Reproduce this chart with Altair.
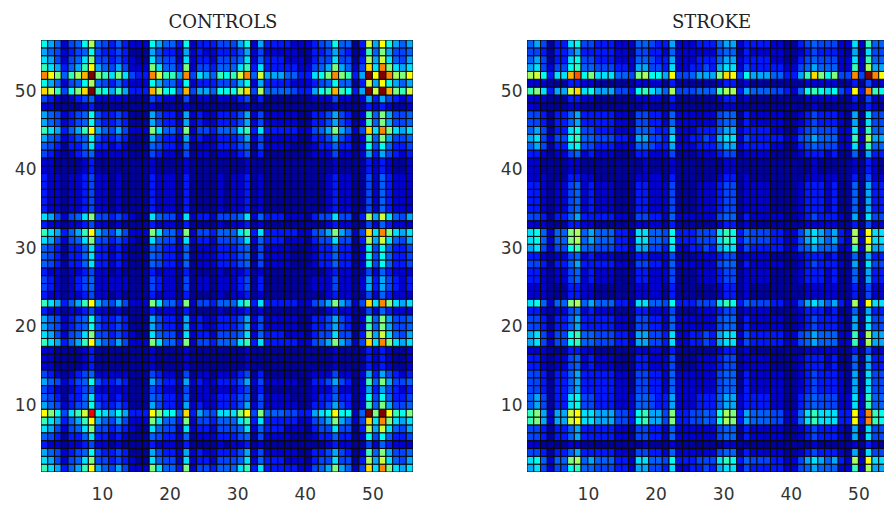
import altair as alt
import pandas as pd

# Cell levels: one character per cell, level index / 20 = colour position.
LEVELS = "0123456789abcdefghijk"

# Row patterns for the CONTROLS panel (55 cells, column 1 first)
CONTROLS_PATTERNS = {
    "A": "2211112311" "1111112111" "1211111111" "2111111111" "1112111132" "32112",
    "B": "3221223422" "1211113222" "1311112122" "3121111111" "1123221142" "53222",
    "C": "4321234522" "2221114322" "1412212223" "4131111111" "2224221263" "64323",
    "D": "5431335733" "2321115433" "2512223334" "5142222111" "2335331284" "85334",
    "X": "6542345843" "3431116433" "2623223334" "6242222211" "3346431295" "a6445",
    "E": "7642457a44" "3432117544" "2723324445" "7253332221" "34474413b6" "c7546",
    "Y": "8652458b54" "3532228655" "3823334446" "8263333222" "34585513c6" "d8656",
    "F": "9763569d65" "464222a755" "3a24435557" "9373333322" "456a6524e7" "ga767",
    "G": "da8479ci87" "686333da88" "5e3654777a" "d4a5554433" "678d8825ka" "kd98a",
    "H": "ec948aek98" "696333fb88" "5f4665888b" "e4b5555433" "689f9836kc" "kfa9c",
    "I": "gda59bfka9" "7a7433gc99" "6g4765989c" "g5c6665533" "78aga936kd" "kgbad",
}
# Which pattern each row has, bottom row first
CONTROLS_ROWS = "FEXBDEFGXD" "CXCAAAFEXX" "BFBCCBDDDE" "FBEBBBBBAA" "CDXFXXACHY" "IFEXY"

# Row patterns for the STROKE panel
STROKE_PATTERNS = {
    "a": "2211112211" "1111111211" "1211111112" "2111111111" "1121111121" "32111",
    "b": "2221113322" "1111112222" "1311111123" "3121111111" "1222221131" "42222",
    "c": "3321224523" "2221113322" "2411122234" "4122221111" "2333231151" "63333",
    "d": "4431335633" "3332214433" "2522222245" "5132222211" "2343332161" "74444",
    "e": "5641337844" "3332225543" "3622233356" "6233332211" "3454442272" "95555",
    "f": "6742448955" "4443326644" "3722334367" "7243333322" "4565552292" "b6666",
    "g": "785255ab56" "5553327755" "4833344479" "8354443322" "46765632b2" "d7777",
    "h": "9a6266cd77" "6664438966" "4a3344548b" "a365554422" "57977733d3" "g9888",
    "j": "9a7366ce78" "6664438976" "5b4445559b" "b365554432" "58987843d3" "g9888",
    "i": "bc8377fh8a" "777554ab88" "6d445666ae" "d486665533" "69ea8a44g4" "kgdba",
}
STROKE_ROWS = "fgdaddhhee" "dddccbffdd" "cgbbccdcfg" "gbdccccbaa" "cefeddabjb" "ifede"

X_TICKS = [10, 20, 30, 40, 50]
Y_TICKS = [10, 20, 30, 40, 50]
JET_STOPS = [0, 0.05, 0.14, 0.25, 0.38, 0.5, 0.65, 0.89, 1]
JET_COLORS = ["#000070", "#00009a", "#0000ff", "#0060ff", "#00ffff", "#7fff7f", "#ffff00", "#ff0000", "#7f0000"]
TITLE_FONT = "DejaVu Serif"
LABEL_FONT = "DejaVu Sans"


def table(patterns, rows):
    out = []
    for b, name in enumerate(rows, start=1):
        for k, ch in enumerate(patterns[name], start=1):
            out.append({"x": k, "x2": k + 1, "y": b, "y2": b + 1, "v": LEVELS.index(ch) / 20})
    return pd.DataFrame(out)


def panel(df, title, width, xmax, dx):
    return (
        alt.Chart(df, width=width, height=432)
        .mark_rect(stroke="#0a0a0a", strokeWidth=1, clip=True)
        .encode(
            x=alt.X("x:Q", scale=alt.Scale(domain=[1, xmax], nice=False, zero=False),
                    axis=alt.Axis(values=X_TICKS, title=None, grid=False, domain=False, tickSize=0,
                                  labelPadding=14, labelFont=LABEL_FONT, labelFontSize=17,
                                  labelColor="#333333", format="d")),
            x2="x2:Q",
            y=alt.Y("y:Q", scale=alt.Scale(domain=[1, 56], nice=False, zero=False),
                    axis=alt.Axis(values=Y_TICKS, title=None, grid=False, domain=False, tickSize=0,
                                  labelPadding=5, labelFont=LABEL_FONT, labelFontSize=17,
                                  labelColor="#333333", labelOffset=4, minExtent=28, maxExtent=28,
                                  format="d")),
            y2="y2:Q",
            color=alt.Color("v:Q", legend=None,
                            scale=alt.Scale(domain=JET_STOPS, range=JET_COLORS)),
        )
        .properties(title=alt.TitleParams(title, font=TITLE_FONT, fontSize=18, fontWeight="normal",
                                          color="#222222", anchor="middle", dx=dx, offset=8))
    )


left = panel(table(CONTROLS_PATTERNS, CONTROLS_ROWS), "CONTROLS", 372, 56, -4)
right = panel(table(STROKE_PATTERNS, STROKE_ROWS), "STROKE", 357, 1 + 357 * 55 / 372, 6)

chart = (
    alt.hconcat(left, right, spacing=86)
    .properties(padding={"left": 5, "top": 6, "right": 0, "bottom": 0}, background="white")
    .configure_view(stroke=None)
    .configure_axis(labelOverlap=False)
)

chart.save("out.html", embed_options={"renderer": "svg", "actions": False})
